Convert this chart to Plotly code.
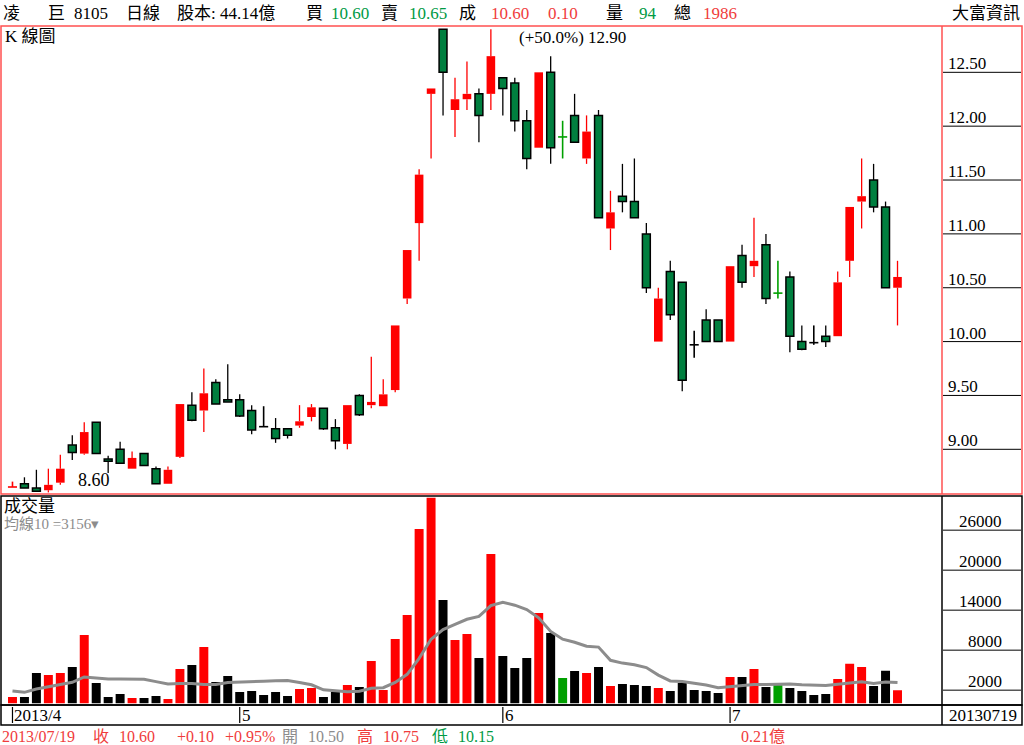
import numpy as np
import pandas as pd
import plotly.graph_objects as go

# 凌巨 8105 日K (2013/04/02 ~ 2013/07/19), 75 trading days
opens = [8.65, 8.68, 8.64, 8.62, 8.69, 9.04, 8.96, 9.25, 8.91, 9.00,
         8.82, 8.96, 8.82, 8.68, 8.93, 9.41, 9.36, 9.62, 9.46, 9.46,
         9.36, 9.21, 9.19, 9.19, 9.22, 9.30, 9.38, 9.20, 9.05, 9.50,
         9.41, 9.40, 9.55, 10.40, 11.10, 12.30, 12.90, 12.15, 12.25, 12.30,
         12.30, 12.45, 12.40, 12.05, 11.80, 12.50, 11.90, 12.10, 11.70, 12.10,
         11.05, 11.35, 11.30, 11.00, 10.00, 10.65, 10.55, 9.97, 10.20, 10.20,
         10.00, 10.80, 10.70, 10.90, 10.45, 10.60, 10.00, 9.99, 10.05, 10.05,
         10.75, 11.30, 11.50, 11.25, 10.50]
highs = [8.70, 8.74, 8.81, 8.82, 8.95, 9.13, 9.25, 9.25, 8.94, 9.07,
         8.98, 8.96, 8.84, 8.84, 9.42, 9.53, 9.75, 9.65, 9.79, 9.51,
         9.41, 9.40, 9.29, 9.19, 9.41, 9.42, 9.38, 9.28, 9.41, 9.51,
         9.86, 9.65, 10.15, 10.85, 11.60, 12.35, 12.90, 12.45, 12.60, 12.35,
         12.90, 12.45, 12.45, 12.15, 12.50, 12.65, 12.05, 12.30, 12.10, 12.15,
         11.40, 11.65, 11.70, 11.10, 10.50, 10.75, 10.55, 10.10, 10.30, 10.20,
         10.70, 10.90, 11.15, 11.00, 10.75, 10.65, 10.15, 10.15, 10.15, 10.65,
         11.25, 11.70, 11.65, 11.30, 10.75]
lows = [8.65, 8.64, 8.61, 8.60, 8.67, 8.90, 8.95, 8.96, 8.78, 8.87,
        8.82, 8.85, 8.68, 8.68, 8.92, 9.26, 9.16, 9.42, 9.44, 9.30,
        9.14, 9.21, 9.06, 9.10, 9.20, 9.26, 9.18, 9.00, 9.00, 9.31,
        9.38, 9.40, 9.53, 10.35, 10.75, 11.70, 12.10, 11.90, 12.15, 11.85,
        12.15, 12.10, 11.95, 11.60, 11.80, 11.65, 11.70, 11.85, 11.65, 11.15,
        10.85, 11.20, 11.15, 10.45, 10.00, 10.20, 9.54, 9.85, 10.00, 10.00,
        10.00, 10.50, 10.60, 10.35, 10.40, 9.90, 9.92, 9.97, 9.95, 10.05,
        10.60, 11.05, 11.20, 10.50, 10.15]
closes = [8.65, 8.64, 8.61, 8.67, 8.82, 8.97, 9.16, 8.96, 8.89, 8.87,
          8.92, 8.85, 8.68, 8.81, 9.42, 9.27, 9.52, 9.42, 9.44, 9.31,
          9.18, 9.21, 9.10, 9.13, 9.26, 9.39, 9.19, 9.08, 9.41, 9.32,
          9.44, 9.51, 10.15, 10.85, 11.55, 12.35, 12.50, 12.25, 12.30, 12.10,
          12.65, 12.35, 12.05, 11.70, 12.50, 11.80, 11.90, 11.85, 11.95, 11.15,
          11.20, 11.30, 11.15, 10.50, 10.40, 10.25, 9.64, 9.97, 10.00, 10.00,
          10.70, 10.55, 10.75, 10.40, 10.45, 10.05, 9.93, 9.99, 10.00, 10.55,
          11.25, 11.35, 11.25, 10.50, 10.60]
volumes = [975, 975, 4575, 4275, 4575, 5475, 10275, 3075, 975, 1425,
           825, 825, 1125, 675, 5175, 5775, 8475, 3225, 4125, 1725,
           1875, 1275, 1725, 1125, 2175, 2325, 975, 1725, 2775, 2475,
           6375, 2025, 9675, 13275, 26175, 30875, 15525, 9525, 10425, 6825,
           22425, 7125, 5325, 6825, 13575, 10575, 3825, 4875, 4575, 5475,
           2625, 2925, 2775, 2625, 2325, 1875, 3075, 2025, 1875, 1575,
           3975, 3975, 5175, 2475, 2775, 2325, 1875, 1275, 1425, 3675,
           5975, 5475, 2625, 4925, 1986]
# 十字線的顏色 (r 紅 / k 黑 / g 綠)
cross_tone = {0: 'r', 21: 'k', 46: 'g', 57: 'k', 64: 'g', 67: 'k'}
# 均線10 前 9 日 (含視窗外資料)
ma10_head = [1875, 1675, 2175, 2475, 2775, 3175, 3975, 3775, 3675]

month_pos = [0, 19, 41, 60]
month_labels = ['2013/4', '5', '6', '7']
last_date = '2013/07/19'
price_ticks = [9.0, 9.5, 10.0, 10.5, 11.0, 11.5, 12.0, 12.5]
vol_ticks = [2000, 8000, 14000, 20000, 26000]

W, H = 1024, 745
RED = '#ff0000'
TXT_RED = '#f03c3c'
TXT_GREEN = '#009a44'
BODY_GREEN = '#007f3f'
CROSS_GREEN = '#00a000'
GRAY = '#8c8c8c'
FONT = 'Liberation Serif, Noto Sans CJK TC, serif'
TONE = {'r': RED, 'k': 'black', 'g': CROSS_GREEN}


def px_x(x):
    return x / W


def px_y(y):
    return 1 - y / H


def segments(xs, y0, y1):
    sx, sy = [], []
    for x, a, b in zip(xs, y0, y1):
        sx += [x, x, None]
        sy += [a, b, None]
    return sx, sy


idx = np.arange(len(closes))
o, h, l, c = (np.array(v) for v in (opens, highs, lows, closes))
up = c > o
down = c < o
cross = ~(up | down)

fig = go.Figure()

# 影線
ux, uy = segments(np.r_[idx[up], idx[up]], np.r_[l[up], c[up]], np.r_[o[up], h[up]])
dx, dy = segments(np.r_[idx[down], idx[down]], np.r_[l[down], o[down]], np.r_[c[down], h[down]])
fig.add_trace(go.Scatter(x=ux, y=uy, mode='lines', line=dict(color=RED, width=1.3), hoverinfo='skip'))
fig.add_trace(go.Scatter(x=dx, y=dy, mode='lines', line=dict(color='black', width=1.3), hoverinfo='skip'))

# 實體
fig.add_trace(go.Bar(x=idx[up], y=(c - o)[up], base=o[up], width=0.72,
                     marker=dict(color=RED, line=dict(width=0))))
fig.add_trace(go.Bar(x=idx[down], y=(o - c)[down], base=c[down], width=0.66,
                     marker=dict(color=BODY_GREEN, line=dict(color='black', width=1.5))))

# 十字線
for tone in 'rkg':
    sel = [i for i in idx[cross] if cross_tone.get(i, 'k') == tone]
    if not sel:
        continue
    vx, vy = segments(sel, l[sel], h[sel])
    hx, hy = [], []
    for i in sel:
        hx += [i - 0.38, i + 0.38, None]
        hy += [c[i], c[i], None]
    fig.add_trace(go.Scatter(x=vx + hx, y=vy + hy, mode='lines',
                             line=dict(color=TONE[tone], width=1.6), hoverinfo='skip'))

# 成交量
vol_colors = []
for i in idx:
    if up[i]:
        vol_colors.append(RED)
    elif down[i]:
        vol_colors.append('black')
    else:
        vol_colors.append(TONE[cross_tone.get(i, 'k')])
fig.add_trace(go.Bar(x=idx, y=volumes, width=0.75, marker=dict(color=vol_colors, line=dict(width=0)),
                     xaxis='x2', yaxis='y2'))

ma10 = pd.Series(volumes, dtype=float).rolling(10).mean()
ma10.iloc[:len(ma10_head)] = ma10_head
fig.add_trace(go.Scatter(x=idx, y=ma10, mode='lines', line=dict(color=GRAY, width=3),
                         xaxis='x2', yaxis='y2', hoverinfo='skip'))

x_range = [-0.96, 77.72]
fig.update_layout(
    width=W, height=H, autosize=False,
    margin=dict(l=0, r=0, t=0, b=0),
    paper_bgcolor='white', plot_bgcolor='white',
    showlegend=False, barmode='overlay',
    font=dict(family=FONT, size=17, color='black'),
    xaxis=dict(domain=[px_x(1), px_x(942)], range=x_range, visible=False, anchor='y'),
    yaxis=dict(domain=[px_y(494), px_y(26)], range=[8.585, 12.93], visible=False, anchor='x'),
    xaxis2=dict(domain=[px_x(1), px_x(942)], range=x_range, visible=False, anchor='y2'),
    yaxis2=dict(domain=[px_y(703.5), px_y(496)], range=[0, 31125], visible=False, anchor='x2'),
)

shapes = []
annotations = []


def frame(x0, y0, x1, y1, color):
    shapes.append(dict(type='rect', xref='paper', yref='paper', x0=px_x(x0), x1=px_x(x1),
                       y0=px_y(y1), y1=px_y(y0), line=dict(color=color, width=1.5)))


def vline(x, y0, y1, color):
    shapes.append(dict(type='line', xref='paper', yref='paper', x0=px_x(x), x1=px_x(x),
                       y0=px_y(y1), y1=px_y(y0), line=dict(color=color, width=1.5)))


def text(s, x, y, color='black', size=17, anchor='left'):
    annotations.append(dict(text=s, xref='paper', yref='paper', x=px_x(x), y=px_y(y),
                            xanchor=anchor, yanchor='middle', showarrow=False,
                            font=dict(family=FONT, size=size, color=color)))


# 外框
frame(1, 496, 1022, 705, 'black')
vline(942, 496, 705, 'black')
frame(1, 705, 1022, 725, 'black')
vline(942, 705, 725, 'black')
frame(1, 26, 1022, 494, '#ff5050')
vline(942, 26, 494, '#ff5050')

# 價格刻度
for t in price_ticks:
    shapes.append(dict(type='line', xref='paper', yref='y', x0=px_x(943), x1=px_x(1021),
                       y0=t, y1=t, line=dict(color='black', width=1)))
    annotations.append(dict(text=f'{t:.2f}', xref='paper', yref='y', x=px_x(946), y=t,
                            xanchor='left', yanchor='bottom', yshift=-3, showarrow=False))
# 成交量刻度
for t in vol_ticks:
    shapes.append(dict(type='line', xref='paper', yref='y2', x0=px_x(943), x1=px_x(1021),
                       y0=t, y1=t, line=dict(color='black', width=1)))
    annotations.append(dict(text=str(t), xref='paper', yref='y2', x=px_x(1004), y=t,
                            xanchor='right', yanchor='bottom', yshift=-3, showarrow=False))

# 月份
for pos, lab in zip(month_pos, month_labels):
    shapes.append(dict(type='line', xref='x2', yref='paper', x0=pos, x1=pos,
                       y0=px_y(723), y1=px_y(707), line=dict(color='black', width=1.2)))
    annotations.append(dict(text=lab, xref='x2', yref='paper', x=pos, y=px_y(715),
                            xanchor='left', yanchor='middle', xshift=0, showarrow=False))
text(last_date.replace('/', ''), 947, 715)

# 最高 / 最低標示
i_lo = int(np.argmin(l))
i_hi = len(h) - 1 - int(np.argmax(h[::-1]))
annotations.append(dict(text=f'{l[i_lo]:.2f}', x=i_lo, y=l[i_lo], xref='x', yref='y',
                        xanchor='left', yanchor='middle', xshift=28, yshift=12,
                        showarrow=False, font=dict(size=18)))
pct = (h[i_hi] - l[i_lo]) / l[i_lo] * 100
annotations.append(dict(text=f'(+{pct:.1f}%) {h[i_hi]:.2f}', x=i_hi, y=h[i_hi], xref='x', yref='y',
                        xanchor='left', yanchor='middle', xshift=26, yshift=-8,
                        showarrow=False, font=dict(size=17)))

# 標題列
text('凌', 1, 13)
text('巨', 46, 13)
text('8105', 72, 13)
text('日線', 124, 13)
text('股本: 44.14億', 175, 13)
text('買', 304, 13)
text('10.60', 329, 13, TXT_GREEN)
text('賣', 379, 13)
text('10.65', 407, 13, TXT_GREEN)
text('成', 457, 13)
text(f'{c[-1]:.2f}', 489, 13, TXT_RED)
text(f'{c[-1] - c[-2]:.2f}', 546, 13, TXT_RED)
text('量', 604, 13)
text('94', 637, 13, TXT_GREEN)
text('總', 672, 13)
text(str(volumes[-1]), 701, 13, TXT_RED)
text('大富資訊', 1022, 13, anchor='right')

text('K 線圖', 3, 37)
text('成交量', 2, 506)
text(f'均線10 ={ma10.iloc[-1]:.0f}▾', 2, 524, GRAY, 15)

# 底部資訊列
chg = c[-1] - c[-2]
text(last_date, 0, 736, TXT_RED, 16)
text('收', 91, 736, TXT_RED, 16)
text(f'{c[-1]:.2f}', 117, 736, TXT_RED, 16)
text(f'{chg:+.2f}', 175, 736, TXT_RED, 16)
text(f'{chg / c[-2] * 100:+.2f}%', 223, 736, TXT_RED, 16)
text('開', 280, 736, GRAY, 16)
text(f'{o[-1]:.2f}', 306, 736, GRAY, 16)
text('高', 355, 736, TXT_RED, 16)
text(f'{h[-1]:.2f}', 381, 736, TXT_RED, 16)
text('低', 430, 736, TXT_GREEN, 16)
text(f'{l[-1]:.2f}', 456, 736, TXT_GREEN, 16)
text(f'{volumes[-1] * 1000 * c[-1] / 1e8:.2f}億', 739, 736, TXT_RED, 16)

fig.update_layout(shapes=shapes, annotations=annotations)
fig.write_html('out.html', config={'displayModeBar': False},
               post_script="document.body.style.margin='0px';")
